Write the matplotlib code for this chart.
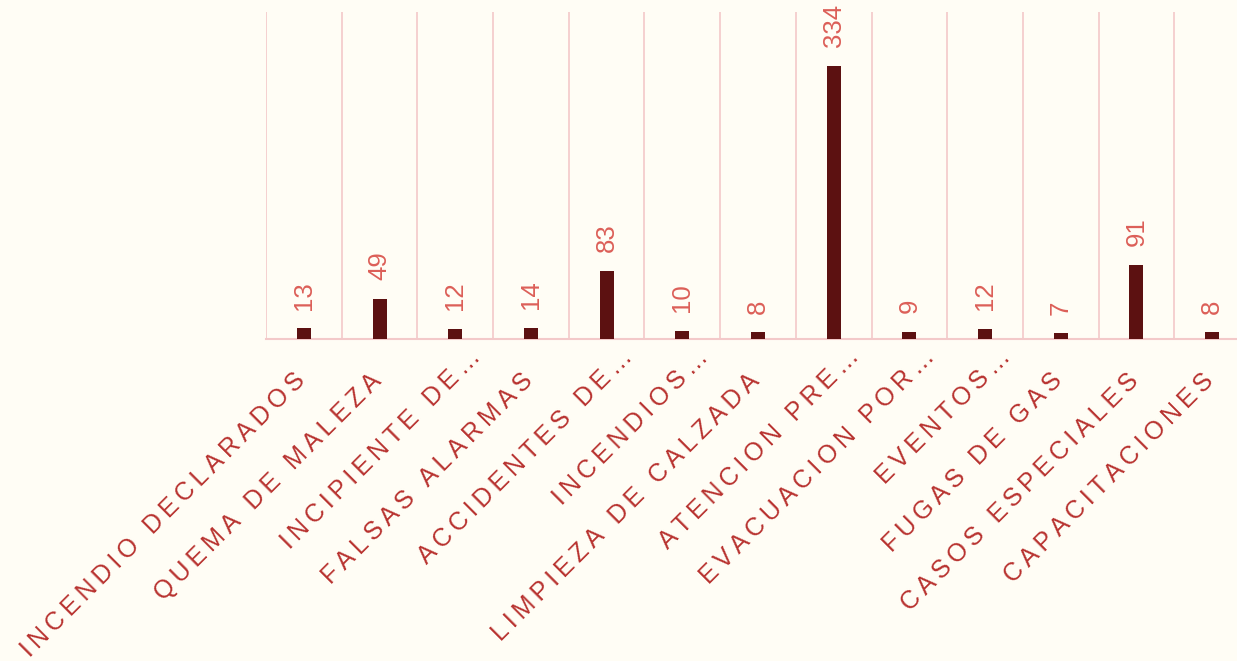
import matplotlib.pyplot as plt
import matplotlib.transforms as mtransforms
import numpy as np

categories = [
    "INCENDIO DECLARADOS", "QUEMA DE MALEZA", "INCIPIENTE DE…",
    "FALSAS ALARMAS", "ACCIDENTES DE…", "INCENDIOS…",
    "LIMPIEZA DE CALZADA", "ATENCION PRE…", "EVACUACION POR…",
    "EVENTOS…", "FUGAS DE GAS", "CASOS ESPECIALES", "CAPACITACIONES",
]
values = [13, 49, 12, 14, 83, 10, 8, 334, 9, 12, 7, 91, 8]

plt.rcParams['font.family'] = ['Liberation Sans', 'DejaVu Sans']

bg = "#fffdf5"
bar_color = "#5c1111"
grid_color = "#f3c9c9"
value_color = "#dc5f58"
label_color = "#b8322f"


def spaced(s):
    # fake letter-spacing with thin spaces
    return "\u2009".join(s)


fig = plt.figure(figsize=(12.37, 6.61), dpi=100, facecolor=bg)
# plot area runs past the right edge, like the original
ax = fig.add_axes([266 / 1237, 322 / 661, 984 / 1237, 327 / 661])
ax.set_facecolor(bg)

x = np.arange(len(categories))
ax.bar(x, values, width=0.185, color=bar_color, zorder=3)

for i, v in enumerate(values):
    ax.annotate(str(v), (i, v), xytext=(0, 13.5), textcoords="offset points",
                rotation=90, ha="center", va="bottom",
                fontsize=18.5, color=value_color)

ax.set_xlim(-0.5, len(categories) - 0.5)
ax.set_ylim(0, 400)

ax.set_xticks(x)
ax.set_xticklabels([spaced(c) for c in categories], rotation=45,
                   ha="right", va="baseline", rotation_mode="anchor",
                   fontsize=18, color=label_color)
ax.tick_params(axis="x", length=0, pad=31)
shift = mtransforms.ScaledTranslation(3 / 100, 0, fig.dpi_scale_trans)
# truncated labels sit further out along their baseline
shift_cut = mtransforms.ScaledTranslation(27 / 100, 24 / 100, fig.dpi_scale_trans)
for lbl, name in zip(ax.get_xticklabels(), categories):
    extra = shift_cut if name.endswith("…") else shift
    lbl.set_transform(lbl.get_transform() + extra)
ax.set_yticks([])

ax.set_xticks(np.arange(len(categories) + 1) - 0.5, minor=True)
ax.tick_params(axis="x", which="minor", length=0)
ax.grid(True, which="minor", axis="x", color=grid_color, linewidth=1.2, zorder=0)

for side in ["left", "right", "top"]:
    ax.spines[side].set_visible(False)
ax.spines["bottom"].set_color(grid_color)
ax.spines["bottom"].set_linewidth(1.5)

fig.savefig("out.png", dpi=100, facecolor=bg)
